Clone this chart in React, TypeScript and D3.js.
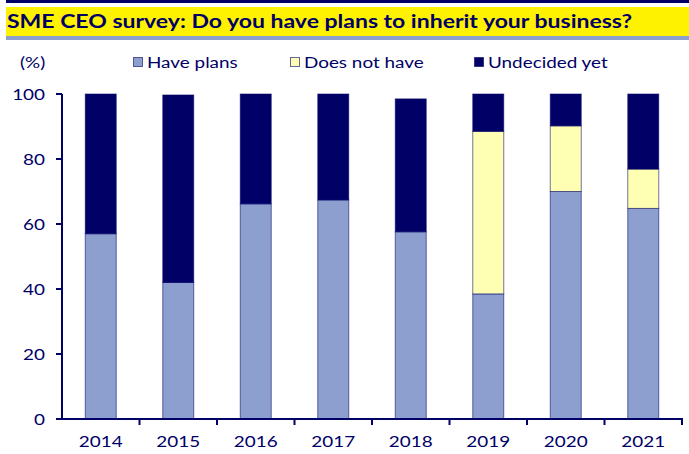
import React from "react";
import * as d3 from "d3";

const years = ["2014", "2015", "2016", "2017", "2018", "2019", "2020", "2021"];
const havePlans = [57, 42, 66.2, 67.4, 57.6, 38.5, 70, 64.8];
const doesNotHave = [0, 0, 0, 0, 0, 50, 20.2, 12.1];
const undecided = [43, 57.7, 33.8, 32.6, 40.9, 11.5, 9.8, 23.1];
const yTicks = [0, 20, 40, 60, 80, 100];
const seriesNames = ["Have plans", "Does not have", "Undecided yet"];
const seriesColors = ["#8C9FCF", "#FFFFB3", "#000066"];
const title = "SME CEO survey: Do you have plans to inherit your business?";

const W = 689, H = 454;
const NAVY = "#000066";
const FONT = "Lato, 'Open Sans', sans-serif";
const SX = 1.18;

function T({ x, y, size, anchor = "start", weight = "normal", children }: any) {
  return (
    <text transform={`translate(${x},${y}) scale(${SX},1)`} fontSize={size} fontWeight={weight}
      textAnchor={anchor} fill={NAVY}>{children}</text>
  );
}

export default function App() {
  const left = 62, right = 682, top = 94, bottom = 419;
  const x = d3.scaleBand().domain(years).range([left, right]).paddingInner(0.6).paddingOuter(0.3);
  const xb = d3.scaleBand().domain(years).range([left, right]);
  const y = d3.scaleLinear().domain([0, 100]).range([bottom, top]);
  const rows = years.map((yr, i) => ({ year: yr, s0: havePlans[i], s1: doesNotHave[i], s2: undecided[i] }));
  const stack = d3.stack<any>().keys(["s0", "s1", "s2"])(rows);

  const legendX = [133, 290, 474];

  return (
    <svg width={W} height={H} style={{ position: "absolute", left: 0, top: 0, fontFamily: FONT }}>
      <rect x={6} y={0} width={W - 6} height={3} fill={NAVY} />
      <rect x={6} y={7} width={W - 6} height={29} fill="#FFF200" />
      <rect x={6} y={36} width={W - 6} height={4} fill="#8C9FCF" />
      <T x={7} y={28} size={19.5} weight="bold">{title}</T>

      <T x={20} y={67.5} size={16}>(%)</T>
      {seriesNames.map((n, i) => (
        <g key={n}>
          <rect x={legendX[i] + 0.5} y={57.5} width={9} height={9} fill={seriesColors[i]} stroke={NAVY} strokeOpacity={0.6} strokeWidth={1} />
          <T x={legendX[i] + 14} y={67.5} size={16}>{n}</T>
        </g>
      ))}

      {stack.map((layer, si) => (
        <g key={si}>
          {layer.map((d, i) => (d[1] - d[0] > 0 ? (
            <rect key={i} x={x(years[i])!} y={y(d[1])} width={x.bandwidth()} height={y(d[0]) - y(d[1])}
              fill={seriesColors[si]} stroke={NAVY} strokeOpacity={0.55} strokeWidth={1} />
          ) : null))}
        </g>
      ))}

      {/* y axis */}
      <line x1={left} x2={left} y1={top} y2={bottom} stroke={NAVY} strokeWidth={2} />
      {yTicks.map(t => (
        <g key={t}>
          <line x1={left - 6} x2={left} y1={y(t)} y2={y(t)} stroke={NAVY} strokeWidth={2} />
          <T x={left - 17} y={y(t) + 6} size={16} anchor="end">{t}</T>
        </g>
      ))}
      {/* x axis */}
      <line x1={left - 1} x2={right + 1} y1={bottom} y2={bottom} stroke={NAVY} strokeWidth={2} />
      {years.map((yr, i) => (
        <g key={yr}>
          {i > 0 && <line x1={xb(yr)!} x2={xb(yr)!} y1={bottom} y2={bottom + 6} stroke={NAVY} strokeWidth={2} />}
          <T x={xb(yr)! + xb.bandwidth() / 2} y={447} size={16} anchor="middle">{yr}</T>
        </g>
      ))}
      <line x1={right} x2={right} y1={bottom} y2={bottom + 6} stroke={NAVY} strokeWidth={2} />
    </svg>
  );
}
